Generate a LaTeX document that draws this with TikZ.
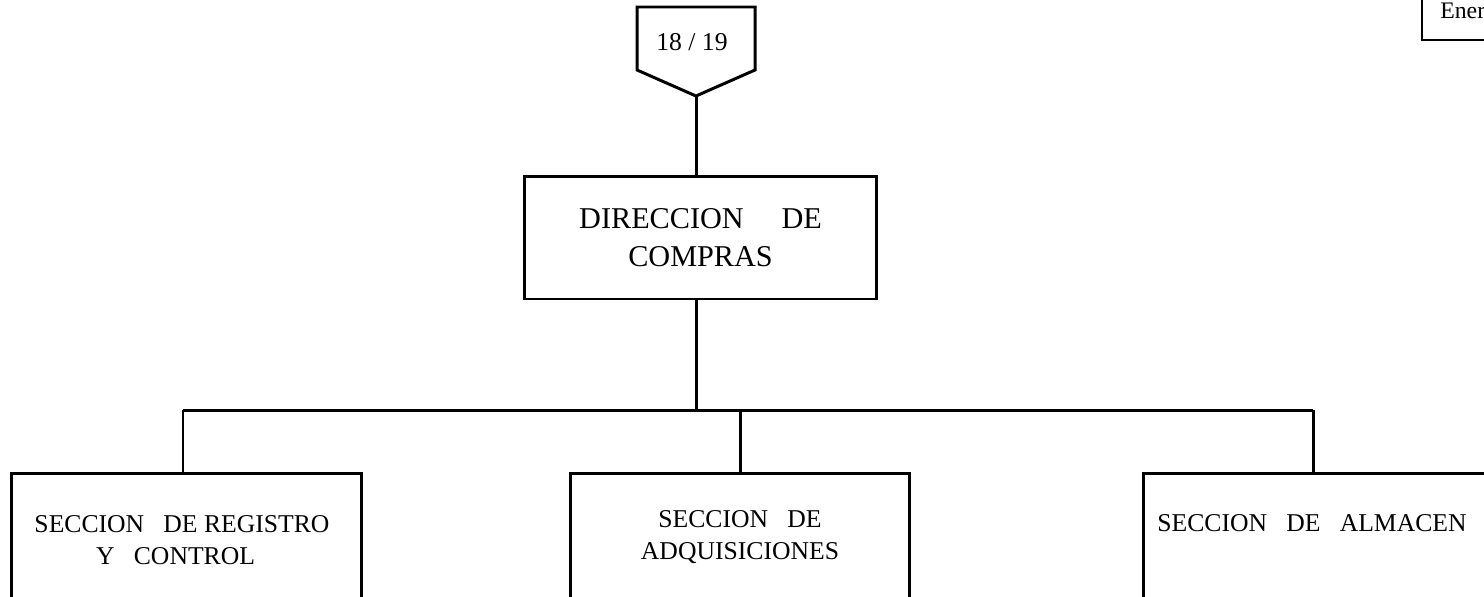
\documentclass[tikz,border=0pt]{standalone}
\usepackage{fontspec}
\setmainfont{Liberation Serif}
\usetikzlibrary{positioning, calc}

\begin{document}
\begin{tikzpicture}[
    x=0.02cm, y=-0.02cm,
    caja/.style={rectangle, draw, line width=1.7pt, inner sep=0pt},
    rotulo/.style={align=center, inner sep=0pt, font=\fontsize{14.6}{18}\selectfont},
    linea/.style={line width=1.7pt}
]
    \useasboundingbox (0,0) rectangle (1484,596);
    \clip (0,0) rectangle (1484,596);

    % hoja
    \draw [linea] (637,7) -- (755,7) -- (755,70) -- (696,96) -- (637,70) -- cycle;
    \coordinate (pico) at (696,96);
    \node [font=\fontsize{14.6}{17}\selectfont, anchor=base, inner sep=0pt] (hoja) at (692,50) {18 / 19};

    % fecha
    \node [caja, line width=1.2pt, minimum width=3cm, minimum height=1.6cm, anchor=south west] (fecha) at (1421,41) {};
    \node [font=\fontsize{13.5}{15}\selectfont, anchor=base west, inner sep=0pt] (fechatxt) at (1440,18) {Ener};

    % direccion
    \node [caja, minimum width=7.06cm, minimum height=2.46cm, align=center, font=\fontsize{17.2}{22}\selectfont] (dir) at (700.5,237.5) {DIRECCION\quad\ DE\\COMPRAS};

    % secciones
    \node [caja, minimum width=7.02cm, minimum height=2.8cm] (reg) at (186.5,543) {};
    \node [caja, minimum width=6.8cm, minimum height=2.8cm] (adq) at (740,543) {};
    \node [caja, minimum width=7.94cm, minimum height=2.8cm] (alm) at (1341.5,543) {};
    \node [rotulo] (regtxt) at (182,540) {SECCION\ \ \ DE REGISTRO\\Y\ \ \ CONTROL\ \ \ };
    \node [rotulo] (adqtxt) at (740,537) {SECCION\ \ \ DE\\ADQUISICIONES};
    \node [rotulo] (almtxt) at (1312,523) {SECCION\ \ \ DE\ \ \ ALMACEN};

    % conexiones
    \coordinate (ramaA) at (183,410);
    \coordinate (ramaB) at (740,410);
    \coordinate (ramaC) at (1313,410);
    \draw [linea] (pico) -- (pico |- dir.north);
    \draw [linea] (pico |- dir.south) -- (pico |- ramaA);
    \draw [linea] (ramaA) -- (ramaC);
    \draw [linea] (ramaA) -- (ramaA |- reg.north);
    \draw [linea] (ramaB) -- (adq.north);
    \draw [linea] (ramaC) -- (ramaC |- alm.north);
\end{tikzpicture}
\end{document}
